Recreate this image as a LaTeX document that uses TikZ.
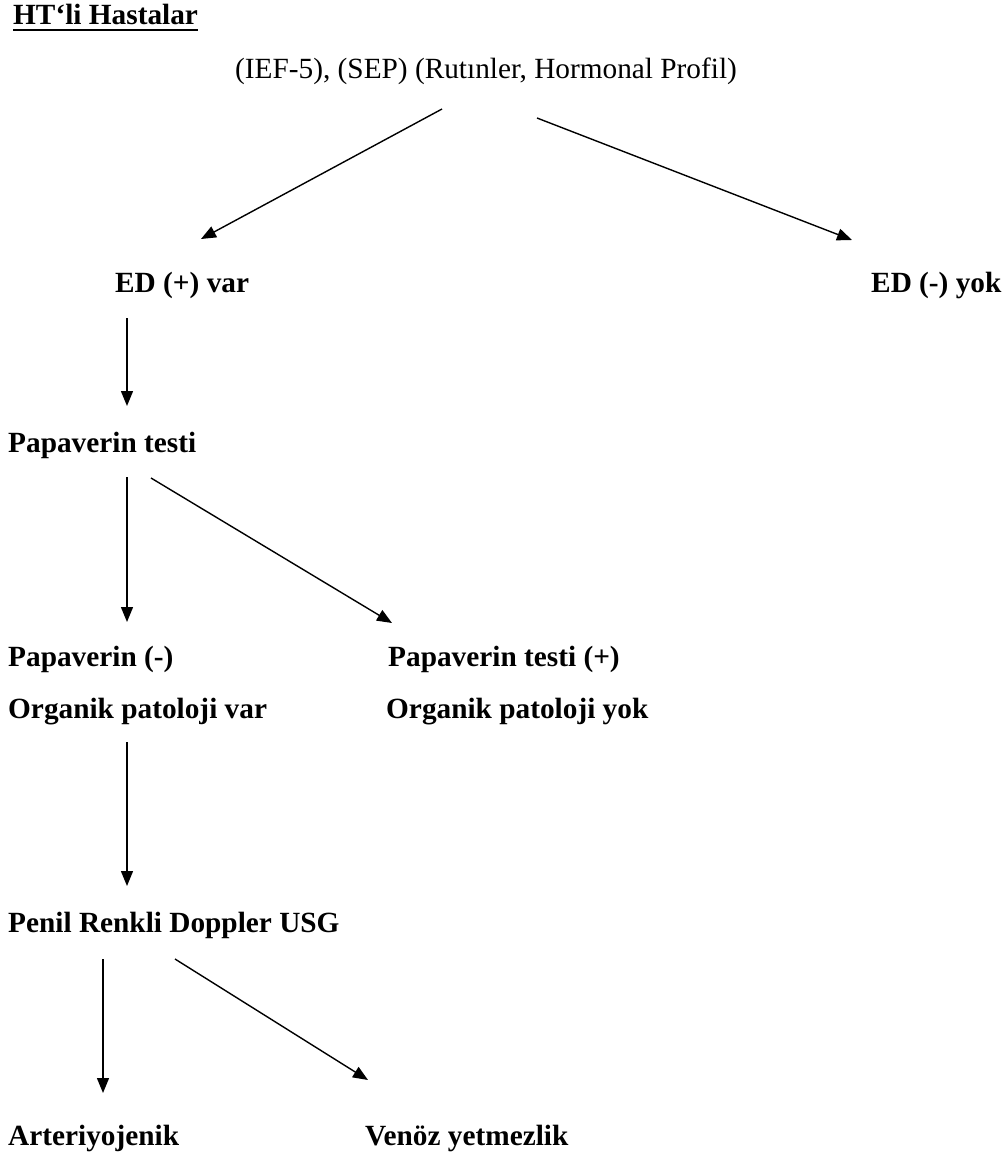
\documentclass[tikz,border=0pt]{standalone}
\usepackage{fontspec}
\setmainfont{Liberation Serif}
\usetikzlibrary{arrows.meta}
\tikzset{
  lbl/.style={anchor=base west, inner sep=0pt, font=\fontsize{29.3}{34}\selectfont\bfseries},
  plain/.style={anchor=base west, inner sep=0pt, font=\fontsize{29.3}{34}\selectfont},
  arr/.style={-{Triangle[length=15pt,width=12pt]}, line width=1.4pt}
}

\begin{document}
\begin{tikzpicture}[x=1pt, y=-1pt]
        \useasboundingbox (0,0) rectangle (1003,1157);
        \node[lbl] (title) at (13,24) {HT‘li Hastalar};
        \draw[line width=2.2pt] ([yshift=-6pt]title.base west) -- ([yshift=-6pt]title.base east);
        \node[plain] (tests) at (235,78) {(IEF-5), (SEP) (Rutınler, Hormonal Profil)};
        \node[lbl] (edvar) at (115,292) {ED (+) var};
        \node[lbl] (edyok) at (871,292) {ED (-) yok};
        \node[lbl] (papt) at (8,452) {Papaverin testi};
        \node[lbl] (papneg) at (8,666) {Papaverin (-)};
        \node[lbl] (pappos) at (388,666) {Papaverin testi (+)};
        \node[lbl] (orgvar) at (8,718) {Organik patoloji var};
        \node[lbl] (orgyok) at (386,718) {Organik patoloji yok};
        \node[lbl] (usg) at (8,932) {Penil Renkli Doppler USG};
        \node[lbl] (arter) at (8,1145) {Arteriyojenik};
        \node[lbl] (venoz) at (365,1145) {Venöz yetmezlik};
        % arrow ends
        \coordinate (tL) at (442,109);
        \coordinate (tR) at (537,118);
        \coordinate (edL) at (201,239);
        \coordinate (edR) at (852,240);
        \coordinate (edvD) at (127,318);
        \coordinate (paptU) at (127,406);
        \coordinate (paptD) at (127,477);
        \coordinate (paptE) at (151,478);
        \coordinate (papnU) at (127,622);
        \coordinate (pappU) at (392,623);
        \coordinate (orgD) at (127,742);
        \coordinate (usgU) at (127,886);
        \coordinate (usgD) at (103,959);
        \coordinate (usgE) at (175,959);
        \coordinate (artU) at (103,1093);
        \coordinate (venU) at (368,1080);
        \draw[arr] (tL) -- (edL);
        \draw[arr] (tR) -- (edR);
        \draw[arr] (edvD) -- (paptU);
        \draw[arr] (paptD) -- (papnU);
        \draw[arr] (paptE) -- (pappU);
        \draw[arr] (orgD) -- (usgU);
        \draw[arr] (usgD) -- (artU);
        \draw[arr] (usgE) -- (venU);
\end{tikzpicture}
\end{document}
